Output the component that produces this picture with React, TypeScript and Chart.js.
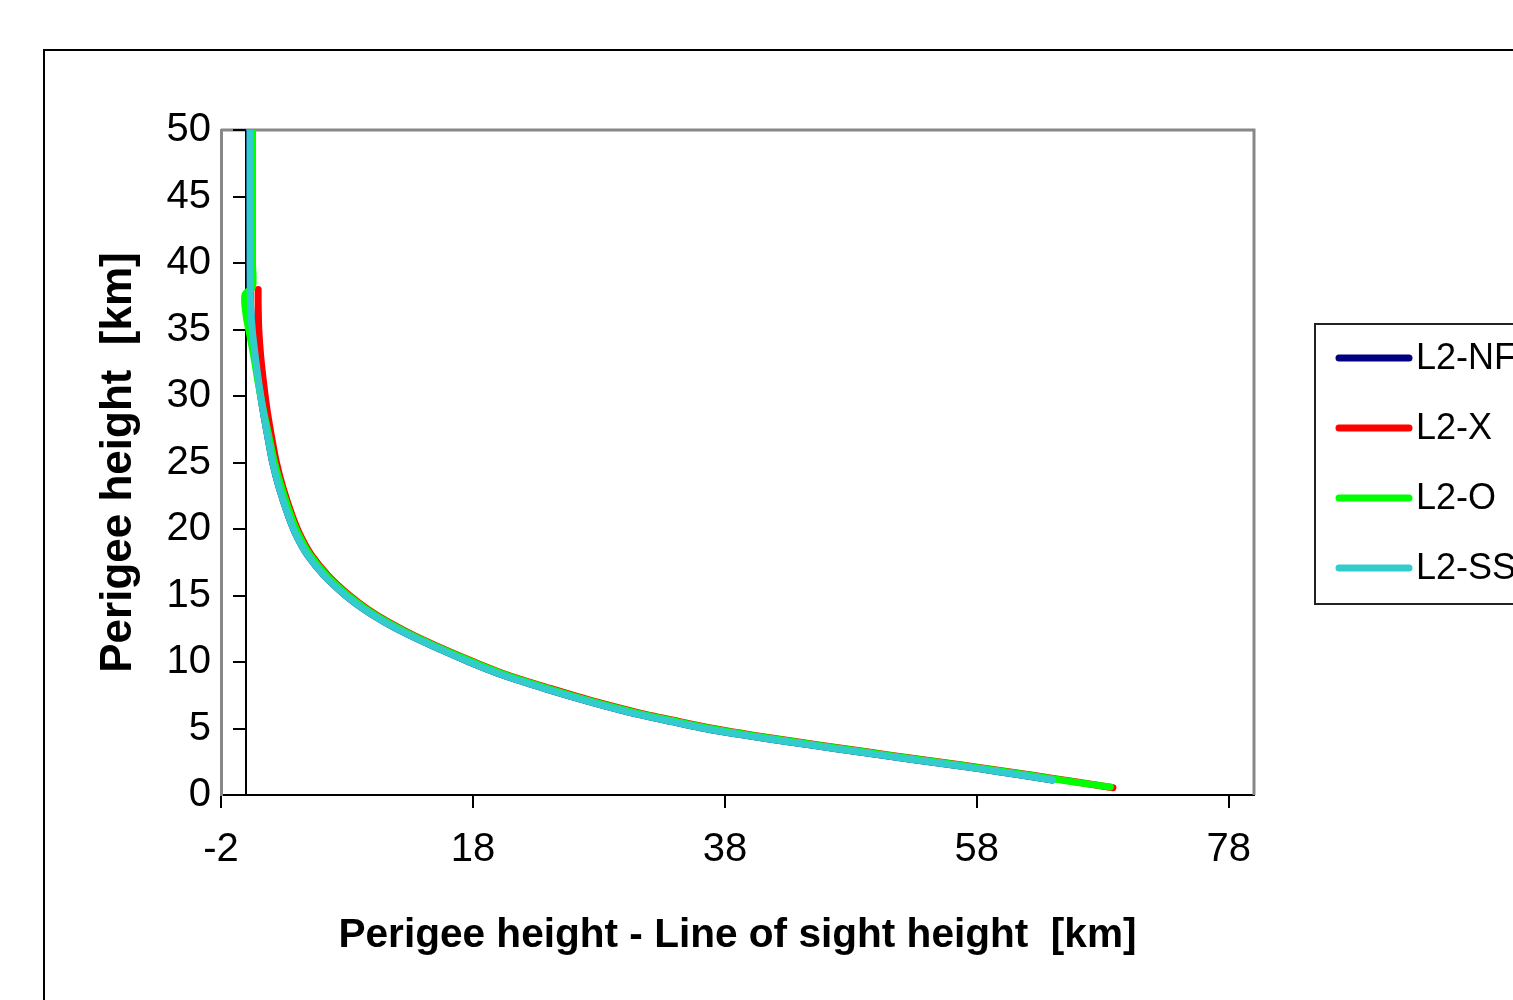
import React, { useEffect, useRef } from 'react';
import { Chart, registerables } from 'chart.js';

Chart.register(...registerables);

const seriesLabels = ['L2-NF', 'L2-X', 'L2-O', 'L2-SS'];
const seriesColors = ['#000080', '#FF0000', '#00FF00', '#33CCCC'];

const xTickValues = [-2, 18, 38, 58, 78];
const yTickValues = [0, 5, 10, 15, 20, 25, 30, 35, 40, 45, 50];

// L2-NF (hidden under L2-SS in the picture)
const nfX = [0.3, 0.3, 0.31, 0.34, 0.48, 0.72, 1.0, 1.32, 1.7, 2.1, 2.65, 3.35, 4.0, 4.9, 6.2, 7.9, 9.3, 11.0, 13.0, 15.3, 17.7, 20.4, 23.7, 27.3, 30.5, 33.9, 36.4, 39.5, 43.0, 46.7, 50.4, 54.2, 58.0, 61.5, 64.0];
const nfY = [50, 44, 40, 37, 35, 33, 31, 29, 27, 25, 23, 21, 19.5, 18, 16.5, 15, 14, 13, 12, 11, 10, 9, 8, 7, 6.2, 5.5, 5.0, 4.5, 4.0, 3.5, 3.0, 2.5, 2.0, 1.5, 1.13];

// L2-X
const xX = [0.95, 0.95, 1.0, 1.15, 1.38, 1.65, 2.0, 2.4, 2.95, 3.65, 4.3, 5.2, 6.5, 8.2, 9.6, 11.3, 13.3, 15.6, 18.1, 20.8, 24.2, 27.8, 31.1, 34.5, 37.1, 40.2, 43.7, 47.4, 51.1, 54.9, 58.7, 62.3, 65.8, 68.8];
const xY = [38, 37, 35, 33, 31, 29, 27, 25, 23, 21, 19.5, 18, 16.5, 15, 14, 13, 12, 11, 10, 9, 8, 7, 6.2, 5.5, 5.0, 4.5, 4.0, 3.5, 3.0, 2.5, 2.0, 1.5, 1.0, 0.55];

// L2-O
const oX = [0.5, 0.5, 0.5, 0.5, -0.1, 0.0, 0.2, 0.6, 0.95, 1.35, 1.8, 2.25, 2.85, 3.55, 4.2, 5.1, 6.4, 8.1, 9.5, 11.2, 13.2, 15.5, 18.0, 20.7, 24.0, 27.6, 30.9, 34.3, 36.9, 40.0, 43.5, 47.2, 50.9, 54.7, 58.5, 62.1, 65.6, 68.6];
const oY = [50, 44, 40, 38.2, 37.6, 36, 35, 33, 31, 29, 27, 25, 23, 21, 19.5, 18, 16.5, 15, 14, 13, 12, 11, 10, 9, 8, 7, 6.2, 5.5, 5.0, 4.5, 4.0, 3.5, 3.0, 2.5, 2.0, 1.5, 1.0, 0.6];

// L2-SS
const ssX = [0.3, 0.3, 0.31, 0.34, 0.48, 0.72, 1.0, 1.32, 1.7, 2.1, 2.65, 3.35, 4.0, 4.9, 6.2, 7.9, 9.3, 11.0, 13.0, 15.3, 17.7, 20.4, 23.7, 27.3, 30.5, 33.9, 36.4, 39.5, 43.0, 46.7, 50.4, 54.2, 58.0, 61.5, 64.0];
const ssY = [50, 44, 40, 37, 35, 33, 31, 29, 27, 25, 23, 21, 19.5, 18, 16.5, 15, 14, 13, 12, 11, 10, 9, 8, 7, 6.2, 5.5, 5.0, 4.5, 4.0, 3.5, 3.0, 2.5, 2.0, 1.5, 1.13];

const xTitle = 'Perigee height - Line of sight height  [km]';
const yTitle = 'Perigee height  [km]';

const FONT = '"Liberation Sans", Arial, Helvetica, sans-serif';

const toPoints = (xs: number[], ys: number[]) => xs.map((x, i) => ({ x, y: ys[i] }));

const framePlugin = {
  id: 'frame',
  beforeDraw(chart: any) {
    const { ctx, width, height } = chart;
    ctx.save();
    ctx.fillStyle = '#ffffff';
    ctx.fillRect(0, 0, width, height);
    ctx.strokeStyle = '#000000';
    ctx.lineWidth = 2;
    ctx.strokeRect(44, 50, width + 20, height + 20);
    ctx.restore();
  },
};

const axesPlugin = {
  id: 'zeroAxis',
  beforeDatasetsDraw(chart: any) {
    const { ctx, chartArea, scales } = chart;
    const xs = scales.x;
    const ys = scales.y;
    ctx.save();
    ctx.strokeStyle = '#888888';
    ctx.lineWidth = 3;
    ctx.beginPath();
    ctx.moveTo(chartArea.left, chartArea.top);
    ctx.lineTo(chartArea.right, chartArea.top);
    ctx.lineTo(chartArea.right, chartArea.bottom);
    ctx.stroke();
    const x0 = Math.round(xs.getPixelForValue(0));
    ctx.strokeStyle = '#000000';
    ctx.lineWidth = 2;
    ctx.beginPath();
    ctx.moveTo(x0, ys.getPixelForValue(0));
    ctx.lineTo(x0, ys.getPixelForValue(50));
    ctx.stroke();
    yTickValues.forEach((v) => {
      const py = Math.round(ys.getPixelForValue(v));
      ctx.beginPath();
      ctx.moveTo(x0 - 13, py);
      ctx.lineTo(x0, py);
      ctx.stroke();
    });
    ctx.restore();
  },
};

const legendPlugin = {
  id: 'boxLegend',
  afterDraw(chart: any) {
    const { ctx, chartArea } = chart;
    const left = chartArea.right + 61;
    const top = 324;
    ctx.save();
    ctx.strokeStyle = '#222222';
    ctx.lineWidth = 2;
    ctx.strokeRect(left, top, 300, 280);
    ctx.font = `36px ${FONT}`;
    ctx.textBaseline = 'middle';
    ctx.textAlign = 'left';
    chart.data.datasets.forEach((ds: any, i: number) => {
      const cy = top + 34 + i * 70;
      ctx.strokeStyle = ds.borderColor;
      ctx.lineWidth = 7;
      ctx.lineCap = 'round';
      ctx.beginPath();
      ctx.moveTo(left + 24, cy);
      ctx.lineTo(left + 94, cy);
      ctx.stroke();
      ctx.fillStyle = '#000000';
      ctx.fillText(ds.label, left + 101, cy + 1);
    });
    ctx.restore();
  },
};

export default function App() {
  const canvasRef = useRef<HTMLCanvasElement | null>(null);

  useEffect(() => {
    if (!canvasRef.current) return;
    const seriesX = [nfX, xX, oX, ssX];
    const seriesY = [nfY, xY, oY, ssY];
    const datasets = seriesLabels.map((label, i) => ({
      label,
      data: toPoints(seriesX[i], seriesY[i]),
      borderColor: seriesColors[i],
      backgroundColor: seriesColors[i],
      borderWidth: 7,
      pointRadius: 0,
      showLine: true,
      tension: 0.3,
      borderCapStyle: 'round' as const,
      borderJoinStyle: 'round' as const,
      order: seriesLabels.length - 1 - i,
    }));

    const chart = new Chart(canvasRef.current, {
      type: 'scatter',
      data: { datasets },
      plugins: [framePlugin, axesPlugin, legendPlugin],
      options: {
        animation: false,
        responsive: false,
        maintainAspectRatio: false,
        layout: { padding: { left: 0, top: 130, right: 259, bottom: 0 } },
        plugins: {
          legend: { display: false },
          tooltip: { enabled: false },
        },
        scales: {
          x: {
            type: 'linear',
            position: 'bottom',
            min: -2,
            max: 80,
            afterBuildTicks: (scale: any) => {
              scale.ticks = xTickValues.map((v) => ({ value: v }));
            },
            afterFit: (scale: any) => {
              scale.height = 205;
            },
            grid: {
              display: true,
              drawOnChartArea: false,
              drawTicks: true,
              tickLength: 13,
              color: '#000000',
              lineWidth: 2,
            },
            border: { display: true, color: '#000000', width: 2 },
            ticks: {
              color: '#000000',
              font: { family: FONT, size: 40 },
              padding: 18,
              maxRotation: 0,
              autoSkip: false,
              callback: (v: any) => String(v),
            },
            title: {
              display: true,
              text: xTitle,
              color: '#000000',
              font: { family: FONT, size: 40.6, weight: 'bold' },
              padding: { top: 0, bottom: 40 },
            },
          },
          y: {
            type: 'linear',
            position: 'left',
            min: 0,
            max: 50,
            afterBuildTicks: (scale: any) => {
              scale.ticks = yTickValues.map((v) => ({ value: v }));
            },
            afterFit: (scale: any) => {
              scale.width = 221;
            },
            grid: {
              display: true,
              drawOnChartArea: false,
              drawTicks: false,
            },
            border: { display: true, color: '#888888', width: 3 },
            ticks: {
              color: '#000000',
              font: { family: FONT, size: 40 },
              padding: 10,
              autoSkip: false,
              callback: (v: any) => String(v),
            },
            title: {
              display: true,
              text: yTitle,
              color: '#000000',
              font: { family: FONT, size: 44, weight: 'bold' },
              padding: { top: 92, bottom: 0 },
            },
          },
        },
      },
    });
    return () => chart.destroy();
  }, []);

  return (
    <div
      style={{
        position: 'fixed',
        left: 0,
        top: 0,
        width: 1513,
        height: 1000,
        overflow: 'hidden',
        background: '#ffffff',
      }}
    >
      <canvas ref={canvasRef} width={1513} height={1000} style={{ display: 'block' }} />
    </div>
  );
}
